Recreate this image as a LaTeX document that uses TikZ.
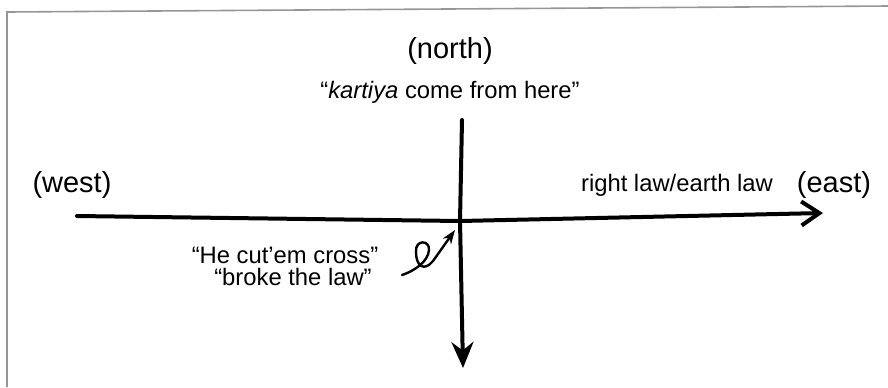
\documentclass[tikz,border=0pt]{standalone}
\usepackage{fontspec}
\setmainfont{Liberation Sans}
\usepackage{tikz}
\usetikzlibrary{arrows.meta, positioning}
\definecolor{framegray}{RGB}{150,150,150}

\begin{document}
\begin{tikzpicture}[x=0.5pt, y=-0.5pt,
    big/.style={inner sep=0pt, font=\fontsize{14.5}{17}\selectfont},
    small/.style={inner sep=0pt, font=\fontsize{11.9}{14}\selectfont},
    axis/.style={line width=2pt, line cap=round, line join=round},
    curl/.style={line width=1.2pt, line cap=round, -{Stealth[length=7pt, width=5pt]}}]
    \useasboundingbox (0,0) rectangle (888,387);
    % frame
    \draw[framegray, line width=0.8pt] (7,387) -- (7,12) -- (888,6);
    % labels
    \node[big] (north) at (450,51) {(north)};
    \node[small] (kartiya) at (450,92) {``\textit{kartiya} come from here''};
    \node[big] (west) at (72,185) {(west)};
    \node[small] (rightlaw) at (677,185) {right law/earth law};
    \node[big] (east) at (834,185) {(east)};
    \node[small] (cut) at (285,255) {``He cut’em cross''};
    \node[small] (broke) at (293,277) {``broke the law''};
    % axes
    \coordinate (w) at (77,216);
    \coordinate (x) at (460,221);
    \coordinate (e) at (823,213);
    \coordinate (n) at (462,120);
    \coordinate (s) at (463,368);
    \draw[axis, -{Straight Barb[length=9pt, width=12pt, line width=2pt]}] (w) -- (x) -- (e);
    \draw[axis, -{Stealth[length=13pt, width=11pt]}] (n) -- (x) -- (s);
    % the cut
    \coordinate (c0) at (402,275);
    \coordinate (c1) at (455,230);
    \draw[curl] (c0) .. controls (414,271) and (428,262) .. (429,250)
        .. controls (430,240) and (415,239) .. (416,252)
        .. controls (416,266) and (424,272) .. (433,261) -- (c1);
\end{tikzpicture}
\end{document}
